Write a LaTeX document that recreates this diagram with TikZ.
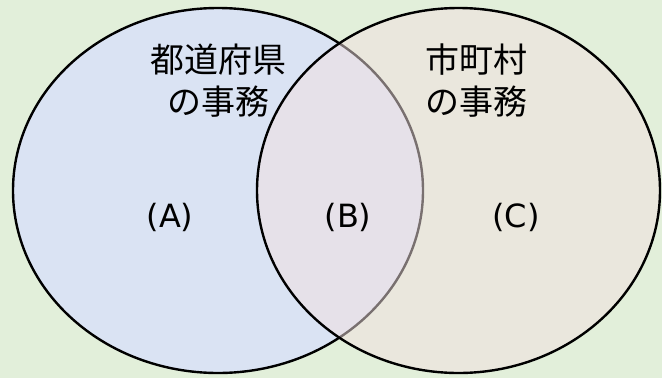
\documentclass[tikz,border=0pt]{standalone}
\usepackage{fontspec}
\usetikzlibrary{shapes.geometric}
\setmainfont{Noto Sans CJK JP}
\newfontfamily\latinfont{DejaVu Sans}
\definecolor{bggreen}{HTML}{E2EFDA}
\definecolor{leftblue}{HTML}{DAE3F3}
\definecolor{rightpink}{RGB}{242,225,224}
\begin{document}
\begin{tikzpicture}[x=1pt,y=-1pt,
  lbl/.style={font=\fontsize{34}{42}\selectfont, align=center, inner sep=0pt},
  abc/.style={font=\latinfont\fontsize{32}{40}\selectfont, inner sep=0pt},
  ell/.style={line width=2.4pt, ellipse, inner sep=0pt, minimum height=365pt}]
\fill[bggreen] (0,0) rectangle (662,378);
\useasboundingbox (0,0) rectangle (662,378);
\node[ell, draw=black, fill=leftblue, minimum width=410pt] (L) at (218,190.5) {};
\node[ell, draw=none, fill=rightpink, fill opacity=0.5, minimum width=403pt] (Rf) at (458.5,190.5) {};
\node[ell, draw=black, minimum width=403pt] (R) at (458.5,190.5) {};
\node[lbl] (t1) at (218,81) {都道府県\\の事務};
\node[lbl] (t2) at (476,81) {市町村\\の事務};
\node[abc] (a) at (170,217) {(A)};
\node[abc] (b) at (348,217) {(B)};
\node[abc] (c) at (516,217) {(C)};
\end{tikzpicture}
\end{document}
